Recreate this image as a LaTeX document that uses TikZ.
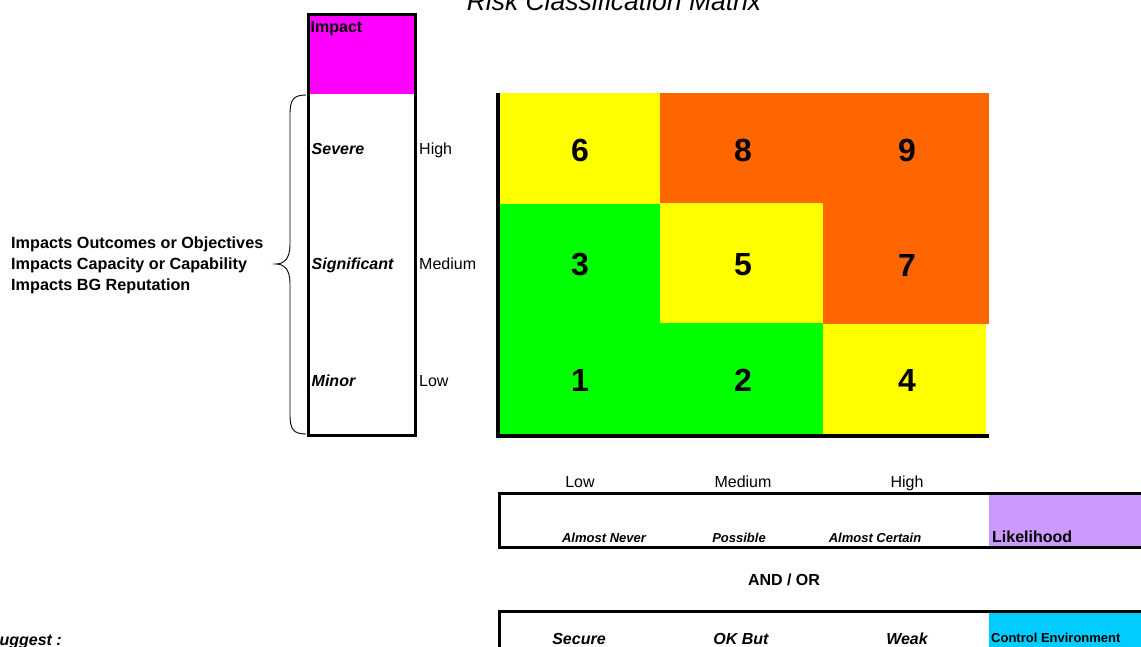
\documentclass[tikz,border=0pt]{standalone}
\usepackage{fontspec}
\setmainfont{Liberation Sans}
\usepackage{xcolor}
\usepackage{tikz}

\definecolor{riskyellow}{HTML}{FFFF00}
\definecolor{riskorange}{HTML}{FF6600}
\definecolor{riskgreen}{HTML}{00FF00}
\definecolor{impactmagenta}{HTML}{FF00FF}
\definecolor{likepurple}{HTML}{CC99FF}
\definecolor{ctrlcyan}{HTML}{00CCFF}

\begin{document}
\begin{tikzpicture}[x=1pt, y=-1pt,
    lbl/.style={inner sep=0pt, text height=13pt, text depth=1.5pt, font=\fontsize{16}{19}\selectfont},
    lblbi/.style={lbl, font=\fontsize{16}{19}\selectfont\bfseries\itshape},
    lblb/.style={lbl, font=\fontsize{16}{19}\selectfont\bfseries},
    smallbi/.style={inner sep=0pt, text height=10pt, text depth=0.7pt, font=\fontsize{13}{15}\selectfont\bfseries\itshape},
    cell/.style={rectangle, anchor=north west, inner sep=0pt},
    num/.style={inner sep=0pt, font=\fontsize{32}{36}\selectfont\bfseries}]
    \useasboundingbox (0,0) rectangle (1141,647);
    \clip (0,0) rectangle (1141,647);

    % title
    \node[inner sep=0pt, anchor=base, font=\fontsize{26.5}{30}\selectfont\itshape] (title) at (614,10.5) {Risk Classification Matrix};

    % impact column
    \fill[impactmagenta] (308,14.7) rectangle (415.7,94);
    \draw[line width=3pt] (308,14.7) rectangle (415.7,435.3);
    \node[lblb, anchor=west] (impact) at (310.5,27) {Impact};
    \node[lblbi, anchor=west] (severe) at (311.5,149) {Severe};
    \node[lblbi, anchor=west] (significant) at (311.5,264) {Significant};
    \node[lblbi, anchor=west] (minor) at (311.5,381) {Minor};
    \node[lbl, anchor=west] (ihigh) at (419,149) {High};
    \node[lbl, anchor=west] (imedium) at (419,264) {Medium};
    \node[lbl, anchor=west] (ilow) at (419,381) {Low};

    % brace and impact notes
    \coordinate (bracetop) at (306,95);
    \coordinate (bracetip) at (276,264);
    \coordinate (bracebot) at (306,434);
    \draw[line width=0.9pt] (bracetop) .. controls (293,95) and (290,100) .. (290,115) -- (290,245)
        .. controls (290,257) and (285,264) .. (bracetip)
        .. controls (285,264) and (290,271) .. (290,283) -- (290,414)
        .. controls (290,429) and (293,434) .. (bracebot);
    \node[inner sep=0pt, anchor=west, align=left, font=\fontsize{16.2}{21}\selectfont\bfseries] (impacts) at (11,265.5)
        {Impacts Outcomes or Objectives\\Impacts Capacity or Capability\\Impacts BG Reputation};

    % risk matrix
    \node[cell, fill=riskyellow, minimum width=160pt, minimum height=111pt] (c6) at (500,93.3) {};
    \node[cell, fill=riskorange, minimum width=163pt, minimum height=110pt] (c8) at (660,93.3) {};
    \node[cell, fill=riskorange, minimum width=166pt, minimum height=111pt] (c9) at (823,93.3) {};
    \node[cell, fill=riskgreen, minimum width=160pt, minimum height=118pt] (c3) at (500,204.3) {};
    \node[cell, fill=riskyellow, minimum width=163pt, minimum height=119pt] (c5) at (660,203.3) {};
    \node[cell, fill=riskorange, minimum width=166pt, minimum height=119pt] (c7) at (823,204.3) {};
    \node[cell, fill=riskgreen, minimum width=160pt, minimum height=113pt] (c1) at (500,322.3) {};
    \node[cell, fill=riskgreen, minimum width=163pt, minimum height=111pt] (c2) at (660,322.3) {};
    \node[cell, fill=riskyellow, minimum width=163pt, minimum height=111pt] (c4) at (823,324) {};
    \draw[line width=3.5pt] (498,93.3) |- (989,436);
    \node[num] (n6) at (580,150) {6};
    \node[num] (n8) at (743,150) {8};
    \node[num] (n9) at (907,150) {9};
    \node[num] (n3) at (580,265) {3};
    \node[num] (n5) at (743,265) {5};
    \node[num] (n7) at (907,265) {7};
    \node[num] (n1) at (580,380) {1};
    \node[num] (n2) at (743,380) {2};
    \node[num] (n4) at (907,380) {4};

    % likelihood scale
    \node[lbl] (llow) at (580,482) {Low};
    \node[lbl] (lmedium) at (743,482) {Medium};
    \node[lbl] (lhigh) at (907,482) {High};
    \fill[likepurple] (989,495) rectangle (1141,546);
    \draw[line width=3pt] (499,493.5) rectangle (1160,547.5);
    \node[smallbi] (never) at (604,538) {Almost Never};
    \node[smallbi] (possible) at (739,538) {Possible};
    \node[smallbi] (certain) at (875,538) {Almost Certain};
    \node[lblb, anchor=west] (likelihood) at (992,537) {Likelihood};

    \node[lblb] (andor) at (784,580) {AND / OR};

    % control environment
    \fill[ctrlcyan] (989,612.7) rectangle (1141,647);
    \draw[line width=3pt] (1160,611.3) -| (499,700);
    \node[lblbi] (secure) at (579,639) {Secure};
    \node[lblbi] (okbut) at (741,639) {OK But};
    \node[lblbi] (weak) at (907,639) {Weak};
    \node[inner sep=0pt, anchor=west, text height=10pt, text depth=0.7pt, font=\fontsize{13}{15}\selectfont\bfseries] (control) at (991,638) {Control Environment};

    \node[inner sep=0pt, anchor=base east, font=\fontsize{16}{19}\selectfont\bfseries\itshape] (suggest) at (62,645) {\underline{Suggest :}};
\end{tikzpicture}
\end{document}
